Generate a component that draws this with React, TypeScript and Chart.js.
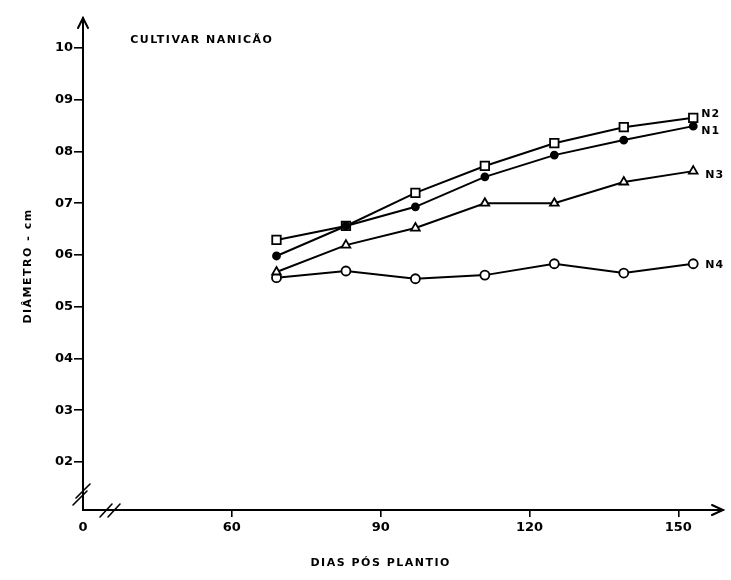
import React, { useEffect, useRef } from 'react';
import { Chart, registerables } from 'chart.js';

Chart.register(...registerables);

// Days after planting (sampling dates)
const days = [69, 83, 97, 111, 125, 139, 153];
// Pseudostem diameter (cm) for each nitrogen level
const n1 = [0.598, 0.656, 0.693, 0.751, 0.793, 0.822, 0.849];
const n2 = [0.629, 0.656, 0.72, 0.772, 0.816, 0.847, 0.865];
const n3 = [0.567, 0.619, 0.652, 0.7, 0.7, 0.741, 0.762];
const n4 = [0.556, 0.569, 0.554, 0.561, 0.583, 0.565, 0.583];
const seriesNames = ['N1', 'N2', 'N3', 'N4'];

// Axis ticks (the x origin is drawn with a break: value 30 sits at the origin, labelled "0")
const xTicks = [30, 60, 90, 120, 150];
const xTickLabels = ['0', '60', '90', '120', '150'];
const yTicks = [0.2, 0.3, 0.4, 0.5, 0.6, 0.7, 0.8, 0.9, 1.0];
const yTickLabels = ['02', '03', '04', '05', '06', '07', '08', '09', '10'];

const chartTitle = 'CULTIVAR NANICÃO';
const xTitle = 'DIAS PÓS PLANTIO';
const yTitle = 'DIÂMETRO - cm';

const FONT = '"DejaVu Sans", sans-serif';

const decorPlugin = {
  id: 'decor',
  afterDraw(chart: any) {
    const ctx = chart.ctx as CanvasRenderingContext2D;
    const ca = chart.chartArea;
    const xs = chart.scales.x;
    const ys = chart.scales.y;
    ctx.save();
    ctx.strokeStyle = '#000';
    ctx.fillStyle = '#000';
    ctx.lineWidth = 2;
    ctx.lineCap = 'round';
    // arrow heads
    ctx.beginPath();
    ctx.moveTo(ca.left - 5, ca.top + 10);
    ctx.lineTo(ca.left, ca.top);
    ctx.lineTo(ca.left + 5, ca.top + 10);
    ctx.moveTo(ca.right - 11, ca.bottom - 5);
    ctx.lineTo(ca.right, ca.bottom);
    ctx.lineTo(ca.right - 11, ca.bottom + 5);
    ctx.stroke();
    // axis breaks
    ctx.lineWidth = 1.6;
    ctx.beginPath();
    const by = ca.bottom - 18;
    ctx.moveTo(ca.left - 7, by + 6);
    ctx.lineTo(ca.left + 7, by - 8);
    ctx.moveTo(ca.left - 10, by + 13);
    ctx.lineTo(ca.left + 4, by - 1);
    const bx = ca.left + 25;
    ctx.moveTo(bx - 8, ca.bottom + 7);
    ctx.lineTo(bx + 4, ca.bottom - 6);
    ctx.moveTo(bx, ca.bottom + 7);
    ctx.lineTo(bx + 12, ca.bottom - 6);
    ctx.stroke();

    // chart title
    ctx.font = `bold 11px ${FONT}`;
    (ctx as any).letterSpacing = '1.5px';
    ctx.textAlign = 'left';
    ctx.textBaseline = 'middle';
    ctx.fillText(chartTitle, xs.getPixelForValue(39.5), ys.getPixelForValue(1.016));

    // x title
    ctx.textAlign = 'center';
    ctx.fillText(xTitle, xs.getPixelForValue(90), ca.bottom + 53);

    // y title
    ctx.save();
    ctx.translate(28, (ca.top + ca.bottom) / 2 + 2);
    ctx.rotate(-Math.PI / 2);
    ctx.fillText(yTitle, 0, 0);
    ctx.restore();

    // series labels
    const offsets = [
      [8, 5],
      [8, -4],
      [12, 4],
      [12, 1],
    ];
    ctx.font = `bold 11px ${FONT}`;
    (ctx as any).letterSpacing = '1px';
    ctx.textAlign = 'left';
    chart.data.datasets.forEach((ds: any, i: number) => {
      const meta = chart.getDatasetMeta(i);
      const pt = meta.data[meta.data.length - 1];
      ctx.fillText(ds.label, pt.x + offsets[i][0], pt.y + offsets[i][1]);
    });
    ctx.restore();
  },
};

export default function App() {
  const ref = useRef<HTMLCanvasElement>(null);
  useEffect(() => {
    if (!ref.current) return;
    const mk = (label: string, vals: number[], style: string, fill: string, r: number) => ({
      label,
      data: days.map((d, i) => ({ x: d, y: vals[i] })),
      borderColor: '#000',
      borderWidth: 2,
      pointStyle: style,
      pointRadius: r,
      pointBorderWidth: 1.8,
      pointBorderColor: '#000',
      pointBackgroundColor: fill,
      tension: 0,
      fill: false,
    });
    const chart = new Chart(ref.current, {
      type: 'line',
      data: {
        datasets: [
          mk(seriesNames[0], n1, 'circle', '#000', 3.5),
          mk(seriesNames[1], n2, 'rect', '#fff', 6),
          mk(seriesNames[2], n3, 'triangle', '#fff', 5),
          mk(seriesNames[3], n4, 'circle', '#fff', 4.5),
        ],
      },
      options: {
        animation: false,
        responsive: false,
        layout: { padding: { left: 0, right: 8, top: 18, bottom: 0 } },
        plugins: { legend: { display: false }, tooltip: { enabled: false }, title: { display: false } },
        scales: {
          x: {
            type: 'linear',
            min: 30,
            max: 159,
            afterFit: (s: any) => {
              s.height = 70;
            },
            afterBuildTicks: (s: any) => {
              s.ticks = xTicks.map((v) => ({ value: v }));
            },
            ticks: {
              color: '#000',
              padding: 3,
              maxRotation: 0,
              autoSkip: false,
              font: { family: FONT, size: 13, weight: 'bold' },
              callback: (v: any) => {
                const i = xTicks.indexOf(Number(v));
                return i >= 0 ? xTickLabels[i] : '';
              },
            },
            grid: {
              drawOnChartArea: false,
              display: true,
              tickLength: 7,
              lineWidth: 1.6,
              tickColor: (c: any) => (c.tick && c.tick.value === 30 ? 'rgba(0,0,0,0)' : '#000'),
            },
            border: { display: true, color: '#000', width: 2 },
          },
          y: {
            type: 'linear',
            min: 0.107,
            max: 1.058,
            afterFit: (s: any) => {
              s.width = 83;
            },
            afterBuildTicks: (s: any) => {
              s.ticks = yTicks.map((v) => ({ value: v }));
            },
            ticks: {
              color: '#000',
              padding: 1,
              autoSkip: false,
              font: { family: FONT, size: 13, weight: 'bold' },
              callback: (v: any) => {
                const i = yTicks.findIndex((t) => Math.abs(t - Number(v)) < 1e-6);
                return i >= 0 ? yTickLabels[i] : '';
              },
            },
            grid: {
              drawOnChartArea: false,
              display: true,
              tickLength: 9,
              lineWidth: 1.6,
              tickColor: '#000',
            },
            border: { display: true, color: '#000', width: 2 },
          },
        },
      },
      plugins: [decorPlugin],
    } as any);
    return () => chart.destroy();
  }, []);
  return (
    <div style={{ position: 'absolute', left: 0, top: 0, width: 731, height: 580, background: '#fff' }}>
      <canvas ref={ref} width={731} height={580} style={{ width: 731, height: 580 }} />
    </div>
  );
}
